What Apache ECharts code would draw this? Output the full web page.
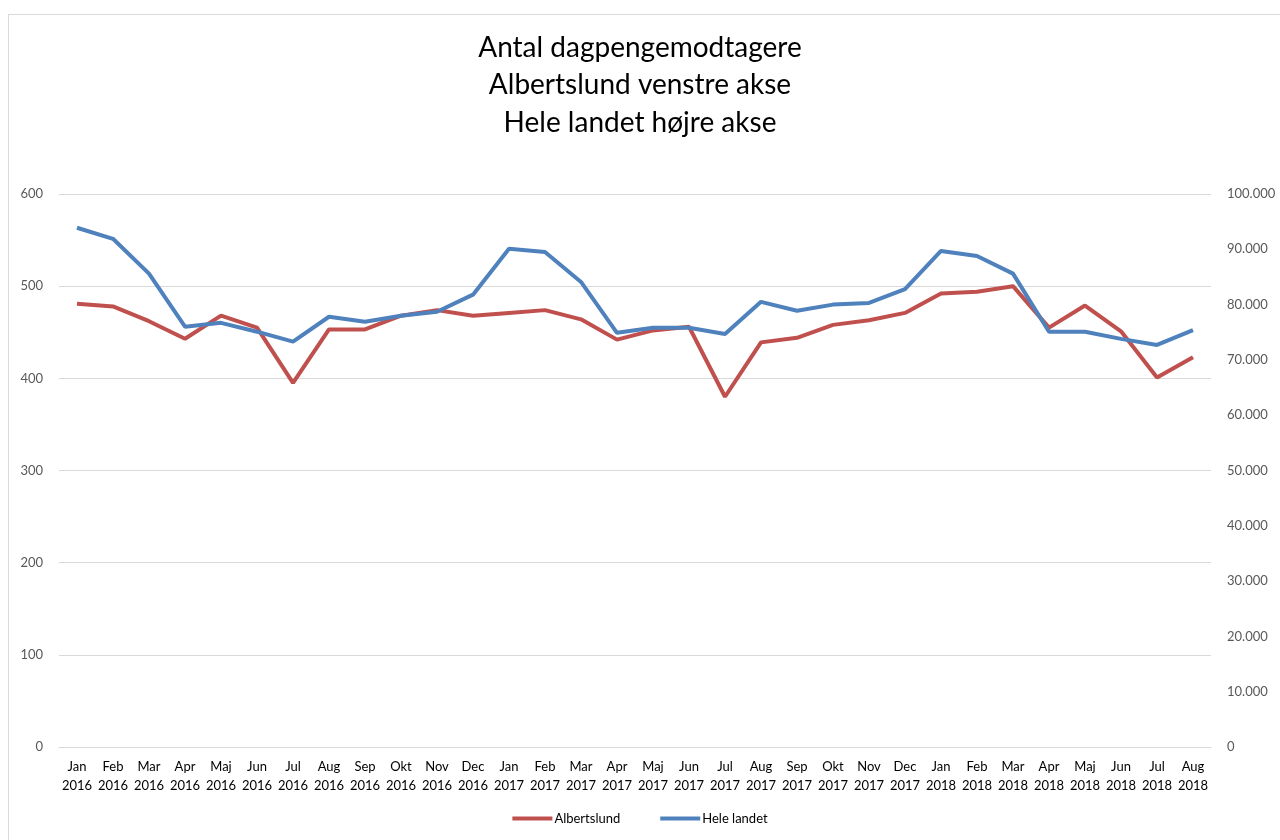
<!DOCTYPE html>
<html>
<head>
<meta charset="utf-8">
<script src="https://cdn.jsdelivr.net/npm/echarts@6/dist/echarts.min.js"></script>
<style>
html, body { margin: 0; padding: 0; background: #fff; }
#frame { position: absolute; left: 8px; top: 14px; width: 1290px; height: 840px; border: 1px solid #d9d9d9; }
#chart { position: absolute; left: 0; top: 0; width: 1280px; height: 840px; }
</style>
</head>
<body>
<div id="frame"></div>
<div id="chart"></div>
<script>
const months = ['Jan', 'Feb', 'Mar', 'Apr', 'Maj', 'Jun', 'Jul', 'Aug', 'Sep', 'Okt', 'Nov', 'Dec'];
const years = ['2016', '2017', '2018'];
const categories = [];
years.forEach(y => months.forEach(m => categories.push(m + '\n' + y)));
categories.length = 32; // Jan 2016 - Aug 2018

// Albertslund, venstre akse
const albertslund = [481, 478, 462, 443, 468, 455, 395, 453, 453, 468, 474, 468,
                     471, 474, 464, 442, 452, 456, 380, 439, 444, 458, 463, 471,
                     492, 494, 500, 455, 479, 451, 401, 423];
// Hele landet, højre akse
const heleLandet = [93900, 91900, 85600, 76000, 76700, 75100, 73300, 77800, 76900, 78000, 78700, 81800,
                    90100, 89500, 84100, 74900, 75800, 75800, 74700, 80500, 78900, 80000, 80300, 82800,
                    89700, 88800, 85600, 75100, 75100, 73800, 72700, 75400];

const titleText = 'Antal dagpengemodtagere\nAlbertslund venstre akse\nHele landet højre akse';
const font = 'Lato, "Open Sans", sans-serif';

const chart = echarts.init(document.getElementById('chart'));
chart.setOption({
    animation: false,
    textStyle: { fontFamily: font },
    title: {
        text: titleText,
        left: 'center',
        top: 24,
        textStyle: { fontSize: 28, fontWeight: 'normal', color: '#000', lineHeight: 37.5, fontFamily: font }
    },
    legend: {
        bottom: 10,
        left: 'center',
        itemWidth: 40,
        itemHeight: 4,
        itemGap: 40,
        icon: 'rect',
        textStyle: { fontSize: 13, color: '#000', padding: [0, 0, 0, -3] },
        data: ['Albertslund', 'Hele landet']
    },
    grid: { left: 59, right: 69, top: 194, bottom: 93 },
    xAxis: {
        type: 'category',
        boundaryGap: true,
        data: categories,
        axisLine: { lineStyle: { color: '#d9d9d9' } },
        axisTick: { show: false },
        axisLabel: { interval: 0, color: '#000', fontSize: 13, lineHeight: 19, margin: 10 }
    },
    yAxis: [{
        type: 'value',
        min: 0, max: 600, interval: 100,
        axisLine: { show: false },
        axisTick: { show: false },
        axisLabel: { color: '#595959', fontSize: 13, margin: 16 },
        splitLine: { lineStyle: { color: '#d9d9d9', width: 1 } }
    }, {
        type: 'value',
        min: 0, max: 100000, interval: 10000,
        axisLine: { show: false },
        axisTick: { show: false },
        splitLine: { show: false },
        axisLabel: {
            color: '#595959', fontSize: 13, margin: 16,
            formatter: v => v === 0 ? '0' : String(v).replace(/\B(?=(\d{3})+(?!\d))/g, '.')
        }
    }],
    series: [{
        name: 'Albertslund',
        type: 'line',
        yAxisIndex: 0,
        data: albertslund,
        showSymbol: false,
        itemStyle: { color: '#c0504d' },
        lineStyle: { color: '#c0504d', width: 4 }
    }, {
        name: 'Hele landet',
        type: 'line',
        yAxisIndex: 1,
        data: heleLandet,
        showSymbol: false,
        itemStyle: { color: '#4f81bd' },
        lineStyle: { color: '#4f81bd', width: 4 }
    }]
});
</script>
</body>
</html>
